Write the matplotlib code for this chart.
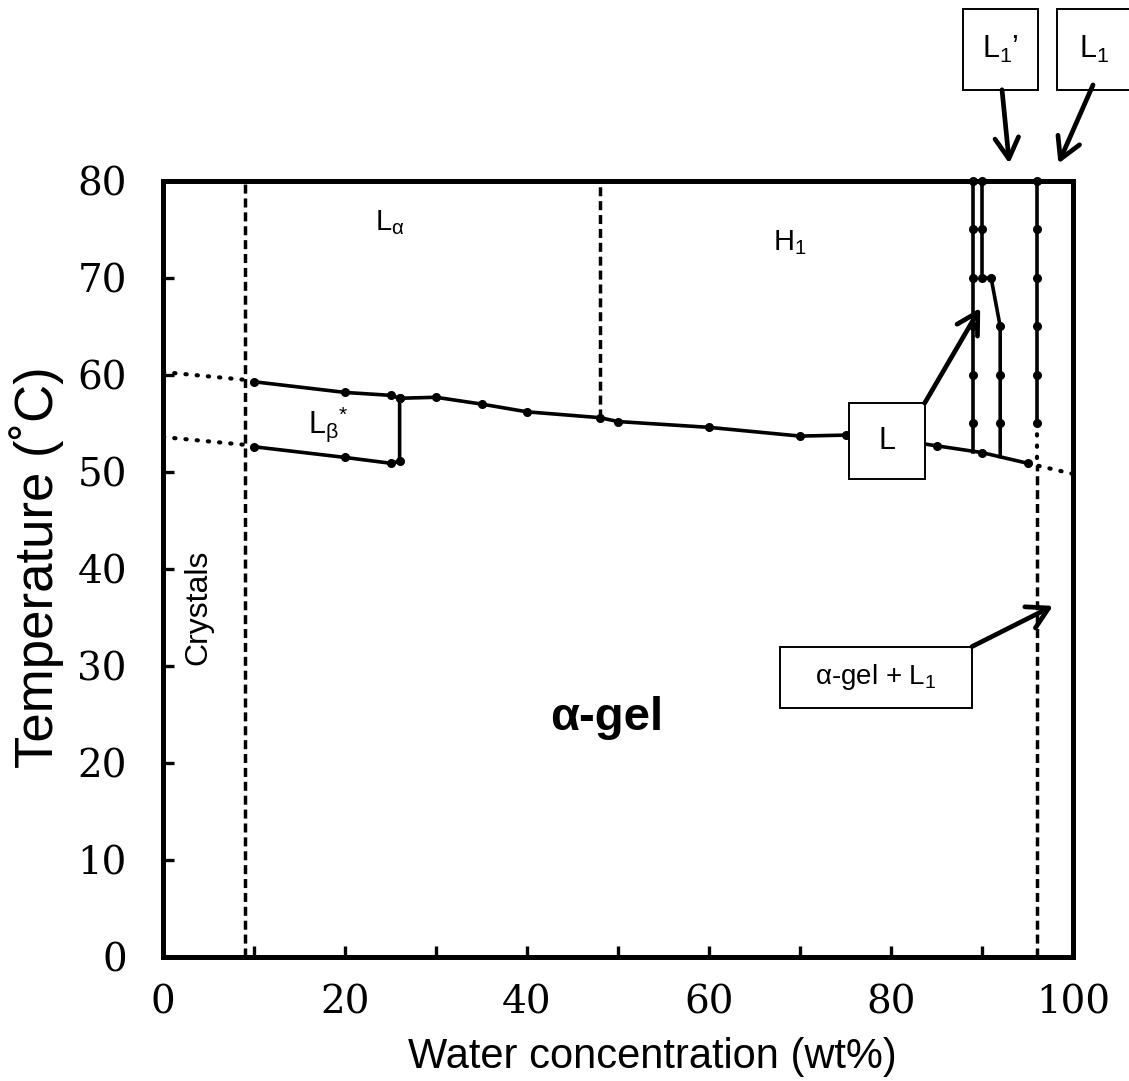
import matplotlib
matplotlib.use('Agg')
import matplotlib.pyplot as plt
from matplotlib.patches import Rectangle
from matplotlib.ticker import MultipleLocator

plt.rcParams['font.family'] = ['Liberation Sans', 'DejaVu Sans']
plt.rcParams['mathtext.fontset'] = 'custom'
plt.rcParams['mathtext.rm'] = 'Liberation Sans'

# main transition line (alpha-gel boundary), wt% water vs temperature
upper_x = [10, 20, 25, 26, 30, 35, 40, 48, 50, 60, 70, 75, 80, 85, 90, 95]
upper_T = [59.3, 58.2, 57.9, 57.6, 57.7, 57.0, 56.2, 55.6, 55.2, 54.6, 53.7, 53.8, 53.4, 52.7, 52.0, 50.9]

# lower boundary of the L_beta* region
lower_x = [10, 20, 25, 26, 26]
lower_T = [52.6, 51.5, 50.9, 51.1, 57.6]

# vertical boundaries at high water content
v89_x = [89, 89, 89, 89, 89, 89]
v89_T = [80, 75, 70, 65, 60, 55]
v89_end = 52.1
v90_x = [90, 90, 90, 91, 92, 92, 92]
v90_T = [80, 75, 70, 70, 65, 60, 55]
v90_end = 51.6
v96_x = [96, 96, 96, 96, 96, 96]
v96_T = [80, 75, 70, 65, 60, 55]

# dotted extrapolations
dot_up_x, dot_up_T = [0, 9], [60.3, 59.5]
dot_lo_x, dot_lo_T = [0, 9], [53.6, 52.8]
dot_r_x, dot_r_T = [95, 100], [50.9, 49.8]
dot_v_x, dot_v_T = [96, 96], [55, 50.7]

# dashed phase borders: (x, T from, T to)
dashed = [(9, 0, 80), (48, 55.6, 80), (96, 0, 50.7)]

fig = plt.figure(figsize=(11.29, 10.81), dpi=100)
ax = fig.add_axes([0.1444, 0.1147, 0.806, 0.7179])

lw = 2.6
ms = 5.5
ax.plot(upper_x, upper_T, '-o', color='black', lw=lw, ms=ms, zorder=3)
ax.plot(lower_x, lower_T, '-o', color='black', lw=lw, ms=ms, zorder=3)
ax.plot(v89_x + [89], v89_T + [v89_end], '-', color='black', lw=lw, zorder=3)
ax.plot(v89_x, v89_T, 'o', color='black', ms=ms, zorder=3, clip_on=False)
ax.plot(v90_x + [92], v90_T + [v90_end], '-', color='black', lw=lw, zorder=3)
ax.plot(v90_x, v90_T, 'o', color='black', ms=ms, zorder=3, clip_on=False)
ax.plot(v96_x, v96_T, '-o', color='black', lw=lw, ms=ms, zorder=3, clip_on=False)

for xs, ts in [(dot_up_x, dot_up_T), (dot_lo_x, dot_lo_T), (dot_r_x, dot_r_T), (dot_v_x, dot_v_T)]:
    ax.plot(xs, ts, color='black', lw=3.0, dashes=(0.3, 2.4), dash_capstyle='round', zorder=3)

for xd, t0, t1 in dashed:
    ax.plot([xd, xd], [t0, t1], color='black', lw=2.5, dashes=(2.6, 1.4), zorder=2)

ax.set_xlim(0, 100)
ax.set_ylim(0, 80)
ax.xaxis.set_major_locator(MultipleLocator(20))
ax.xaxis.set_minor_locator(MultipleLocator(10))
ax.yaxis.set_major_locator(MultipleLocator(10))
ax.tick_params(which='both', direction='in', length=8, width=2.4, top=False, right=False)
ax.tick_params(axis='x', pad=20)
ax.tick_params(axis='y', pad=26)
for lab in ax.get_xticklabels() + ax.get_yticklabels():
    lab.set_fontfamily('DejaVu Serif')
    lab.set_fontsize(28)
for sp in ax.spines.values():
    sp.set_linewidth(3.6)

fig.text(0.578, 0.004, 'Water concentration (wt%)', fontsize=30, ha='center', va='bottom')
fig.text(0.032, 0.4755, 'Temperature (\u02daC)', fontsize=38, ha='center', va='center', rotation=90)

# region labels
ax.text(24.9, 75.7, r'L$_\mathregular{\alpha}$', fontsize=21, ha='center', va='center')
ax.text(68.9, 73.6, r'H$_\mathregular{1}$', fontsize=21, ha='center', va='center')
ax.text(18.2, 54.9, r'L$_\mathregular{\beta}$$^\mathregular{*}$', fontsize=22, ha='center', va='center')
ax.text(3.85, 36, 'Crystals', fontsize=23, ha='center', va='center', rotation=90)
ax.text(48.8, 24.6, '\u03b1-gel', fontsize=34, fontweight='bold', ha='center', va='center')

# boxed labels with arrows
boxes = [
    ((75.4, 49.3), 8.3, 7.8, 'L', 22, (83.7, 57.1), (89.8, 66.9)),
    ((67.8, 25.7), 21.1, 6.3, '\u03b1-gel + L$_\\mathregular{1}$', 20, (88.9, 32.0), (97.8, 36.2)),
    ((87.9, 89.4), 8.3, 8.3, 'L$_\\mathregular{1}$\u2019', 22, (92.2, 89.4), (93.0, 81.8)),
    ((98.2, 89.4), 8.3, 8.3, 'L$_\\mathregular{1}$', 22, (102.2, 89.9), (98.4, 81.8)),
]
for (bx, by), bw, bh, txt, fs, a0, a1 in boxes:
    ax.add_patch(Rectangle((bx, by), bw, bh, facecolor='white', edgecolor='black',
                           lw=1.4, zorder=5, clip_on=False))
    ax.text(bx + bw / 2, by + bh / 2, txt, fontsize=fs, ha='center', va='center', zorder=6)
    ax.annotate('', xy=a1, xytext=a0, annotation_clip=False,
                arrowprops=dict(arrowstyle='->,head_length=1.5,head_width=0.85', lw=3.4,
                                color='black', shrinkA=0, shrinkB=0), zorder=6)

fig.savefig('out.png', dpi=100)
